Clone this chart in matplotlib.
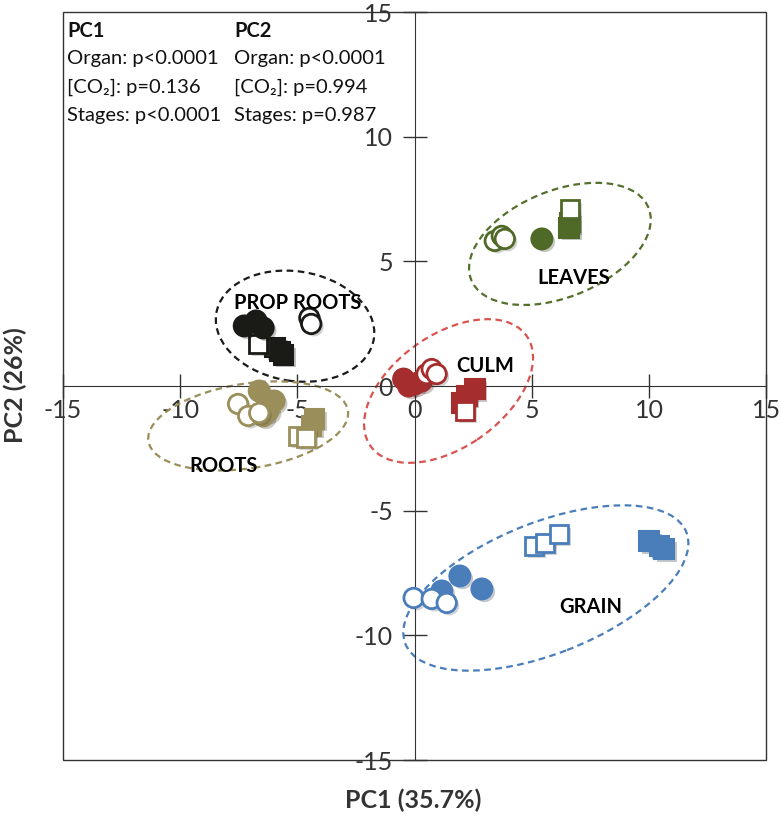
import matplotlib
matplotlib.use("Agg")
import matplotlib.pyplot as plt
from matplotlib.patches import Ellipse, Rectangle
import matplotlib.patheffects as pe

plt.rcParams['font.family'] = ['Lato', 'DejaVu Sans']

# ==============================
# DATA (PC1, PC2 scores)
# ==============================
organs = ["PROP ROOTS", "ROOTS", "CULM", "LEAVES", "GRAIN"]
colors = ["#1a1a16", "#9a8e5a", "#a52d2d", "#4f6a26", "#4a7ebb"]
ring_colors = ["#1a1a1a", "#9a8e5a", "#d9534f", "#55702c", "#4a7ebb"]

# filled circles
fc_x = [[-7.27, -6.76, -6.46], [-6.63, -5.99, -6.25, -6.46], [-0.47, -0.26, 0.0, 0.3], [5.43], [1.16, 1.93, 2.87]]
fc_y = [[2.41, 2.61, 2.33], [-0.2, -0.6, -1.0, -1.2], [0.28, 0.0, 0.08, 0.2], [5.9], [-8.22, -7.62, -8.14]]
# open circles
oc_x = [[-4.49, -4.41], [-7.53, -7.1, -6.63], [0.51, 0.73, 0.94], [3.42, 3.72, 3.85], [-0.04, 0.73, 1.37]]
oc_y = [[2.73, 2.49], [-0.72, -1.2, -1.08], [0.48, 0.68, 0.48], [5.82, 6.02, 5.9], [-8.5, -8.54, -8.7]]
# open squares
os_x = [[-6.68], [-4.96, -4.62], [2.14], [6.63], [5.09, 5.56, 6.16]]
os_y = [[1.68], [-2.0, -2.08], [-1.0], [7.1], [-6.42, -6.3, -5.94]]
# filled squares
fs_x = [[-5.95, -5.75, -5.6], [-4.28, -4.41], [2.57, 2.23, 2.01], [6.59, 6.63], [10.01, 10.44, 10.65]]
fs_y = [[1.55, 1.38, 1.25], [-1.32, -1.6], [-0.12, -0.4, -0.68], [6.34, 6.55], [-6.22, -6.42, -6.54]]

# ellipses: center x, center y, width, height, angle
ell_cx = [-5.1, -7.1, 1.45, 6.2, 5.6]
ell_cy = [2.4, -1.6, -0.2, 5.7, -8.1]
ell_w = [6.8, 8.6, 8.0, 8.1, 12.8]
ell_h = [4.4, 3.4, 4.6, 4.3, 5.3]
ell_ang = [-8, 8, 32, 20, 20]

# group labels
lab_x = [-5.0, -8.15, 3.0, 6.8, 7.5]
lab_y = [3.33, -3.2, 0.8, 4.35, -8.86]

stats_pc1 = ["PC1", "Organ: p<0.0001", "[CO\u2082]: p=0.136", "Stages: p<0.0001"]
stats_pc2 = ["PC2", "Organ: p<0.0001", "[CO\u2082]: p=0.994", "Stages: p=0.987"]

x_ticks = [-15, -10, -5, 0, 5, 10, 15]
y_ticks = [-15, -10, -5, 0, 5, 10, 15]

# ==============================
# FIGURE
# ==============================
fig = plt.figure(figsize=(7.81, 8.18), dpi=100)
ax = fig.add_axes([0.0807, 0.0709, 0.9003, 0.9144])
ax.set_xlim(-15, 15)
ax.set_ylim(-15, 15)

shadow = [pe.SimplePatchShadow(offset=(2, -2), alpha=0.25), pe.Normal()]

for i in range(len(organs)):
    c = colors[i]
    ax.add_patch(Ellipse((ell_cx[i], ell_cy[i]), ell_w[i], ell_h[i], angle=ell_ang[i],
                         fill=False, edgecolor=ring_colors[i], linestyle=(0, (3, 2)),
                         linewidth=1.6, zorder=2))
    ax.plot(fs_x[i], fs_y[i], "s", ms=14, mfc=c, mec=c, mew=1.5, ls="none",
            zorder=4, path_effects=shadow)
    ax.plot(os_x[i], os_y[i], "s", ms=13, mfc="white", mec=c, mew=2, ls="none",
            zorder=4, path_effects=shadow)
    ax.plot(fc_x[i], fc_y[i], "o", ms=15, mfc=c, mec=c, mew=1.5, ls="none",
            zorder=5, path_effects=shadow)
    ax.plot(oc_x[i], oc_y[i], "o", ms=14, mfc="white", mec=c, mew=2, ls="none",
            zorder=5, path_effects=shadow)
    ax.text(lab_x[i], lab_y[i], organs[i], fontsize=14.5, fontweight="bold",
            ha="center", va="center", zorder=6)

# axes through origin
for s in ["top", "right"]:
    ax.spines[s].set_visible(False)
ax.spines["left"].set_position(("data", 0))
ax.spines["bottom"].set_position(("data", 0))
ax.spines["left"].set_color("#333333")
ax.spines["bottom"].set_color("#333333")
ax.add_patch(Rectangle((0, 0), 1, 1, transform=ax.transAxes, fill=False,
                       edgecolor="#333333", linewidth=1.0, clip_on=False, zorder=1))

ax.set_xticks(x_ticks)
ax.set_xticklabels([str(t) for t in x_ticks])
ax.set_yticks(y_ticks)
ax.set_yticklabels([str(t) for t in y_ticks])
ax.tick_params(axis="both", direction="inout", length=17, width=1, color="#333333",
               labelsize=18, labelcolor="#333333")
ax.tick_params(axis="x", pad=1)
ax.tick_params(axis="y", pad=7)

# stats text block
for j in range(len(stats_pc1)):
    w = "bold" if j == 0 else "normal"
    ax.text(0.006, 0.988 - j * 0.0385, stats_pc1[j], transform=ax.transAxes,
            fontsize=14.5, fontweight=w, ha="left", va="top", color="#111111")
    ax.text(0.243, 0.988 - j * 0.0385, stats_pc2[j], transform=ax.transAxes,
            fontsize=14.5, fontweight=w, ha="left", va="top", color="#111111")

fig.text(0.529, 0.022, "PC1 (35.7%)", fontsize=18, fontweight="bold",
         ha="center", va="center", color="#333333")
fig.text(0.02, 0.529, "PC2 (26%)", fontsize=18, fontweight="bold", rotation=90,
         ha="center", va="center", color="#333333")

fig.savefig("out.png", dpi=100)
